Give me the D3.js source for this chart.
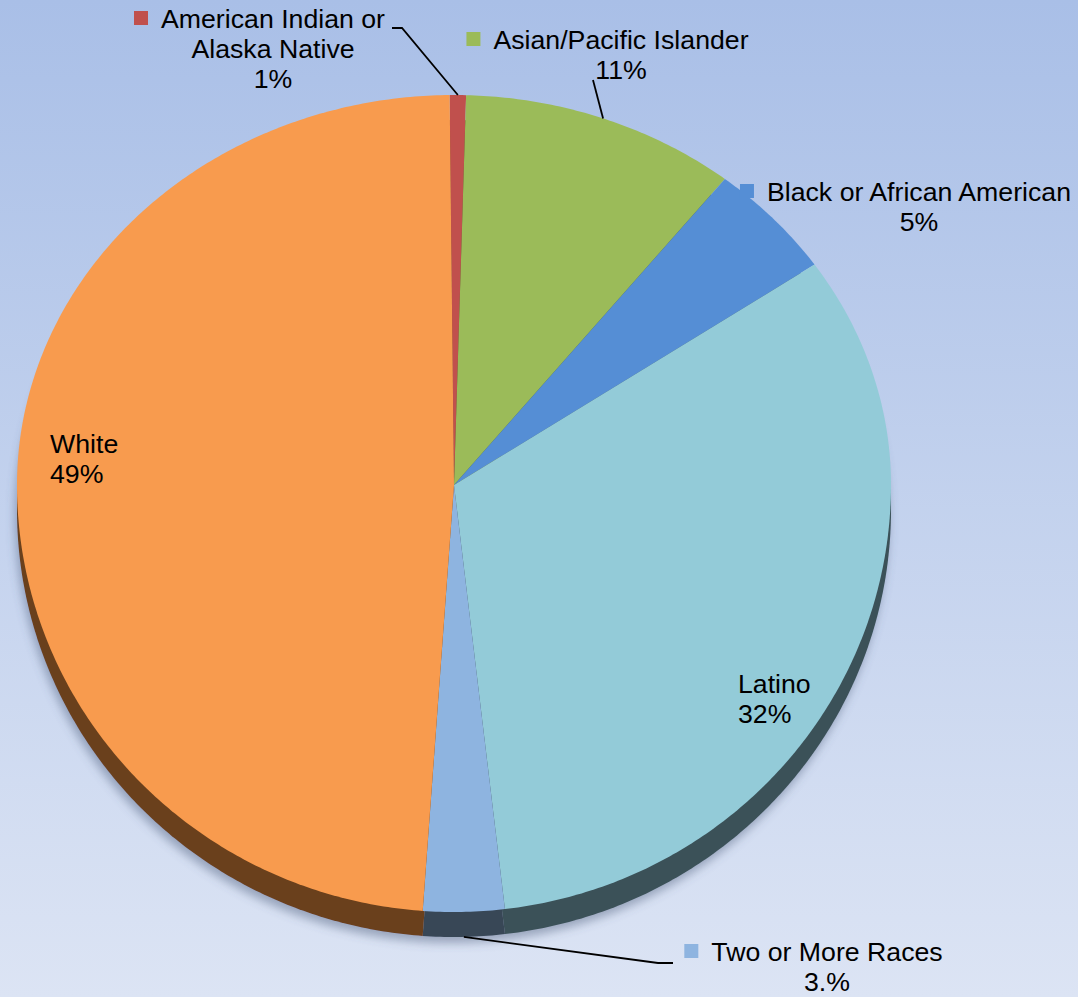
<!DOCTYPE html>
<html>
<head>
<meta charset="utf-8">
<script src="https://cdn.jsdelivr.net/npm/d3@7"></script>
<style>
  body { margin: 0; }
  svg { display: block; }
  text { font-family: "Liberation Sans", Arial, sans-serif; font-size: 26.7px; fill: #000; }
</style>
</head>
<body>
<svg id="chart"></svg>
<script>
// data, clockwise from 12 o'clock
const categories = ["American Indian or Alaska Native", "Asian/Pacific Islander", "Black or African American", "Latino", "Two or More Races", "White"];
const values = [0.6, 10.2, 4.8, 32.7, 3.0, 48.7];
const labelLines = [
    ["American Indian or", "Alaska Native", "1%"],
    ["Asian/Pacific Islander", "11%"],
    ["Black or African American", "5%"],
    ["Latino", "32%"],
    ["Two or More Races", "3.%"],
    ["White", "49%"]
];
const topColors = ["#c0504d", "#9bbb59", "#558ed5", "#93cbd8", "#8eb4e0", "#f89b4e"];
const sideColors = ["#6a2b29", "#55682f", "#2f4f78", "#3b5158", "#384757", "#6b401c"];

const width = 1078, height = 997;
const cx = 454, cy = 485, rx = 437, ryTop = 390, ryBot = 427, depth = 25;

// label layout: anchor point, text-anchor, marker, leader (label side points)
const labelLayout = [
    { x: 273, y: 28, anchor: "middle", marker: true, leader: [[392, 28], [402, 28]] },
    { x: 621, y: 49, anchor: "middle", marker: true, leader: [[593, 80]] },
    { x: 919, y: 201, anchor: "middle", marker: true, leader: null },
    { x: 738, y: 693, anchor: "start", marker: false, leader: null },
    { x: 827, y: 961, anchor: "middle", marker: true, leader: [[673, 963], [658, 963]] },
    { x: 50, y: 453, anchor: "start", marker: false, leader: null }
];

const svg = d3.select("#chart").attr("width", width).attr("height", height);

const defs = svg.append("defs");
const bg = defs.append("linearGradient").attr("id", "bg")
    .attr("x1", 0).attr("y1", 0).attr("x2", 0).attr("y2", 1);
bg.append("stop").attr("offset", "0%").attr("stop-color", "#a9bfe7");
bg.append("stop").attr("offset", "100%").attr("stop-color", "#dce4f4");

const shadow = defs.append("filter").attr("id", "shadow")
    .attr("x", "-10%").attr("y", "-10%").attr("width", "120%").attr("height", "130%");
shadow.append("feDropShadow").attr("dx", -2).attr("dy", 6).attr("stdDeviation", 5)
    .attr("flood-color", "#4a5a78").attr("flood-opacity", 0.45);

svg.append("rect").attr("width", width).attr("height", height).attr("fill", "url(#bg)");

// pie angles
const pie = d3.pie().sort(null).startAngle(-0.01).endAngle(2 * Math.PI - 0.01);
const arcs = pie(values);

// tilted pie projection: angle -> screen point
function project(a, dy = 0) {
    const c = Math.cos(a);
    return [cx + rx * Math.sin(a), cy - c * (c > 0 ? ryTop : ryBot) + dy];
}

const line = d3.line();
function slicePath(d, dy) {
    const pts = [[cx, cy + dy]];
    const n = Math.max(2, Math.ceil((d.endAngle - d.startAngle) / 0.01));
    for (let i = 0; i <= n; i++) {
        pts.push(project(d.startAngle + (d.endAngle - d.startAngle) * i / n, dy));
    }
    return line(pts) + "Z";
}

// 3D side
svg.append("g").attr("filter", "url(#shadow)")
    .selectAll("path").data(arcs).enter().append("path")
    .attr("d", d => slicePath(d, depth))
    .attr("fill", (d, i) => sideColors[i]);

// top face
svg.append("g")
    .selectAll("path").data(arcs).enter().append("path")
    .attr("d", d => slicePath(d, 0))
    .attr("fill", (d, i) => topColors[i]);

// leader lines
arcs.forEach((d, i) => {
    const lay = labelLayout[i];
    if (!lay.leader) return;
    const mid = (d.startAngle + d.endAngle) / 2;
    const onBottom = Math.cos(mid) < 0;
    const p = project(mid, onBottom ? depth : 0);
    svg.append("path")
        .attr("d", line(lay.leader.concat([p])))
        .attr("fill", "none")
        .attr("stroke", "#000")
        .attr("stroke-width", 1.8);
});

// labels
const lineHeight = 30;
arcs.forEach((d, i) => {
    const lay = labelLayout[i];
    const t = svg.append("text").attr("text-anchor", lay.anchor);
    labelLines[i].forEach((s, k) => {
        t.append("tspan").attr("x", lay.x).attr("y", lay.y + k * lineHeight).text(s);
    });
    if (lay.marker) {
        const first = t.select("tspan").node();
        const w = first.getComputedTextLength();
        const left = lay.anchor === "middle" ? lay.x - w / 2 : lay.x;
        svg.append("rect")
            .attr("x", left - 27).attr("y", lay.y - 17)
            .attr("width", 14).attr("height", 14)
            .attr("fill", topColors[i]);
    }
});
</script>
</body>
</html>
